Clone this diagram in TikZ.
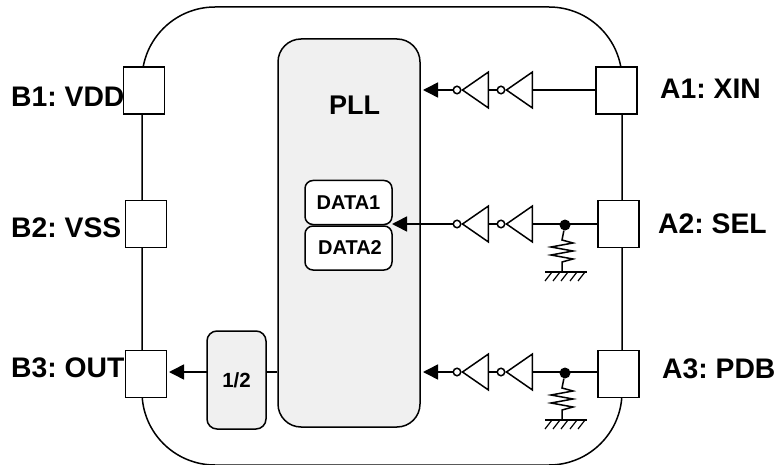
\documentclass[tikz,border=0pt]{standalone}
\usepackage{fontspec}
\setmainfont{Liberation Sans}
\usetikzlibrary{arrows.meta,shapes.geometric}
\frenchspacing
\tikzset{
	wire/.style={line width=1.5pt},
	pad/.style={draw,line width=1.8pt,fill=white,minimum width=41pt,minimum height=47pt,inner sep=0pt},
	block/.style={draw,wire,fill=black!6,rounded corners=#1,inner sep=0pt},
	datacell/.style={draw,wire,fill=white,rounded corners=8pt,inner sep=0pt,font=\bfseries\fontsize{20}{22}\selectfont},
	lbl/.style={font=\bfseries\fontsize{28.3}{32}\selectfont,inner sep=0pt},
	inv/.style={draw,wire,fill=white,isosceles triangle,isosceles triangle stretches,shape border rotate=180,minimum width=36pt,minimum height=26pt,inner sep=0pt},
	bubble/.style={draw,wire,fill=white,circle,minimum size=7.5pt,inner sep=0pt},
	dot/.style={fill=black,circle,minimum size=11pt,inner sep=0pt},
	tip/.style={-{Triangle[length=15pt,width=15pt]}}
}
\begin{document}
\begin{tikzpicture}[x=1pt,y=-1pt]
	\useasboundingbox (0,0) rectangle (776,465);
	% outer frame
	\node[draw,wire,rounded corners=73pt,minimum width=480pt,minimum height=458pt,inner sep=0pt] (frame) at (382,236) {};
	% pads
	\node[pad] (B1) at (144,90.5) {};
	\node[pad] (B2) at (146,224) {};
	\node[pad] (B3) at (146,374) {};
	\node[pad] (A1) at (616.3,90.5) {};
	\node[pad] (A2) at (618.3,224) {};
	\node[pad] (A3) at (618.3,374) {};
	\node[lbl,anchor=west] (lB1) at (11,97) {B1: VDD};
	\node[lbl,anchor=west] (lB2) at (11,228) {B2: VSS};
	\node[lbl,anchor=west] (lB3) at (11,367.5) {B3: OUT};
	\node[lbl,anchor=west] (lA1) at (660,89) {A1: XIN};
	\node[lbl,anchor=west] (lA2) at (658,224) {A2: SEL};
	\node[lbl,anchor=west] (lA3) at (662,369) {A3: PDB};
	% PLL and divider
	\node[block=23pt,minimum width=142pt,minimum height=388pt] (pll) at (349,233) {};
	\node[font=\bfseries\fontsize{27}{30}\selectfont,inner sep=0pt] (plltxt) at (354.5,105) {PLL};
	\node[block=10pt,minimum width=59pt,minimum height=98pt,font=\bfseries\fontsize{20.5}{24}\selectfont] (half) at (236.5,380) {1/2};
	\node[datacell,minimum width=87pt,minimum height=44pt] (data1) at (348.5,202.5) {DATA1};
	\node[datacell,minimum width=87pt,minimum height=44pt] (data2) at (348.5,248) {\hspace{3pt}DATA2};
	\coordinate (halfout) at (207,372);
	\coordinate (halfin) at (266,372);
	\draw[wire,tip] (halfout) -- (169,372) coordinate (b3tip);
	\draw[wire] (halfin) -- (halfin -| pll.west);
	% input rows
	\foreach \row/\y in {1/90,2/224,3/372} {
		\node[inv,anchor=apex] (invR\row) at (504.5,\y) {};
		\node[bubble] (bubR\row) at (501,\y) {};
		\node[inv,anchor=apex] (invL\row) at (460.5,\y) {};
		\node[bubble] (bubL\row) at (457,\y) {};
		\draw[wire] (invL\row.lower side) -- (bubR\row);
		\draw[wire] (invR\row.lower side) -- (invR\row.lower side -| A\row.west);
	}
	\coordinate (tip1) at (423,90);
	\coordinate (tip2) at (392,224);
	\coordinate (tip3) at (423,372);
	\foreach \row in {1,2,3}
		\draw[wire,tip] (bubL\row) -- (tip\row);
	% pull-down resistors
	\foreach \row/\y in {2/224,3/372} {
		\node[dot] (dot\row) at (565,\y+1) {};
		\draw[wire] (dot\row) -- ++(-3,15) coordinate (rtop\row)
			-- ++(11,3) -- ++(-22,4) -- ++(22,4) -- ++(-22,4) -- ++(22,4) -- ++(-11,3)
			-- ++(0,10) coordinate (gnd\row);
		\draw[wire] ([xshift=-17pt]gnd\row) -- ([xshift=25pt]gnd\row);
		\foreach \dx in {-10,-2,6,15,23}
			\draw[line width=1.2pt] ([xshift=\dx pt]gnd\row) -- ++(-7,9);
	}
\end{tikzpicture}
\end{document}
